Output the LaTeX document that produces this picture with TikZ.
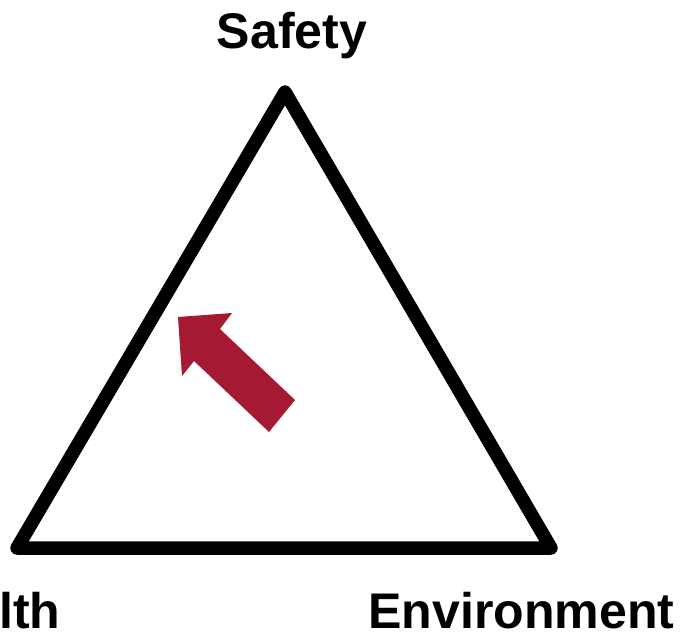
\documentclass[tikz,border=0pt]{standalone}
\usepackage{fontspec}
\setmainfont{Liberation Sans}
\usepackage{tikz}
\usetikzlibrary{calc}
\definecolor{crimson}{RGB}{165,26,50}
\tikzset{
    corner/.style={
        font=\bfseries\fontsize{28.5}{34}\selectfont,
        inner sep=0pt
    },
    side/.style={
        draw=black,
        line width=0.27cm,
        line join=round
    },
    push/.style={
        fill=crimson,
        draw=none
    }
}
\begin{document}
\begin{tikzpicture}[x=0.02cm,y=-0.02cm]

    \clip (0,0) rectangle (684,633);
    \useasboundingbox (0,0) rectangle (684,633);

    %% vertices
    \coordinate (TopV) at (285,92);
    \coordinate (LeftV) at (17,548);
    \coordinate (RightV) at (551,548);

    \draw[side] (TopV) -- (RightV) -- (LeftV) -- cycle;

    %% labels
    \node (Safety) [corner,anchor=base] at (292,48) {Safety};
    \node (Health) [corner,anchor=base west] at (-93,628) {Health};
    \node (Env) [corner,anchor=base west] at (368,628) {Environment};

    %% arrow
    \fill[push] (178,317) -- (232,313) -- (220,329) -- (295,400)
        -- (269,432) -- (194,361) -- (182,376) -- cycle;

\end{tikzpicture}
\end{document}
